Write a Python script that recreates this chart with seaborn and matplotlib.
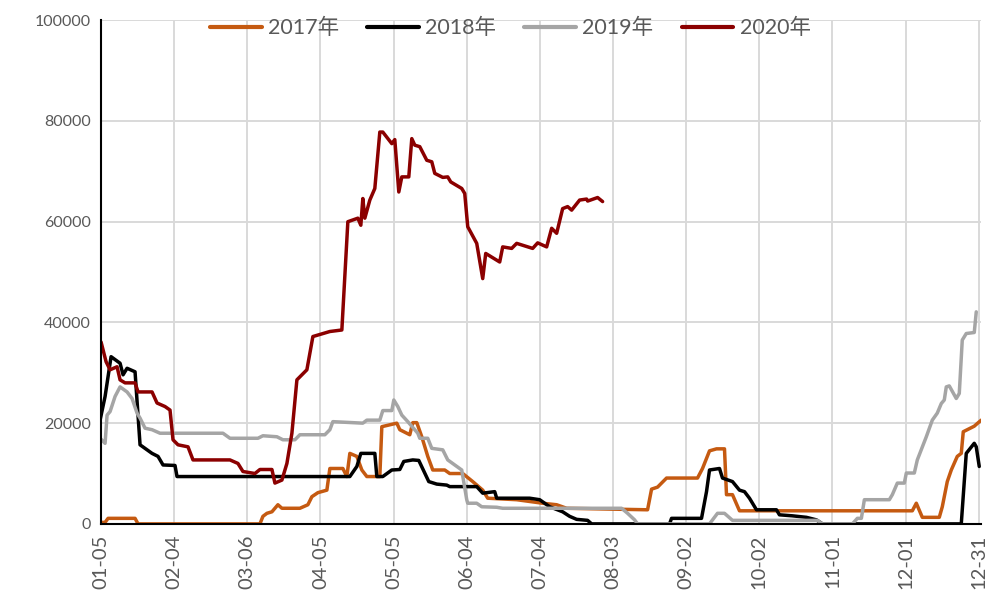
import numpy as np
import pandas as pd
import matplotlib
matplotlib.use("Agg")
import matplotlib.pyplot as plt
import seaborn as sns

# x = pixel column, converted to days since 01-05
PX_X0, PX_PER_DAY = 101.0, 2.44

tick_labels = ["01-05", "02-04", "03-06", "04-05", "05-05", "06-04", "07-04",
               "08-03", "09-02", "10-02", "11-01", "12-01", "12-31"]

x_2017 = [100, 105, 108, 135, 138, 260, 263, 267, 272, 278, 282, 300, 308, 312, 318, 327,
          330, 343, 347, 350, 357, 362, 367, 380, 382, 397, 400, 410, 413, 417, 422, 428,
          433, 445, 450, 463, 473, 483, 488, 517, 543, 557, 567, 648, 652, 658, 667, 698,
          703, 710, 717, 725, 727, 733, 740, 913, 917, 923, 940, 943, 948, 952, 958, 962,
          964, 968, 975, 979, 982]
y_2017 = [300, 300, 1100, 1100, 0, 0, 1500, 2100, 2400, 3800, 3100, 3100, 3800, 5400, 6200, 6700,
          11000, 11000, 9400, 14000, 13400, 10700, 9400, 9400, 19300, 20000, 18700, 17700, 20100, 20100, 17300, 13400,
          10700, 10700, 10000, 10000, 8400, 6700, 5100, 4800, 4100, 3800, 3100, 2800, 6900, 7300, 9100, 9100,
          11000, 14500, 14900, 14900, 5800, 5800, 2600, 2600, 4100, 1300, 1300, 3400, 8400, 10700, 13400, 14000,
          18300, 18700, 19400, 20100, 20600]

x_2018 = [100, 105, 111, 120, 123, 127, 135, 140, 152, 158, 163, 175, 177, 350, 357, 361,
          375, 377, 383, 392, 400, 404, 413, 419, 429, 437, 447, 450, 477, 483, 495, 497,
          530, 540, 550, 563, 570, 577, 588, 592, 670, 672, 702, 707, 710, 720, 723, 733,
          740, 745, 750, 757, 777, 780, 793, 807, 817, 823, 962, 967, 975, 977, 980]
y_2018 = [20600, 25300, 33200, 31900, 29600, 30900, 30200, 15700, 14000, 13400, 11700, 11600, 9400, 9400, 11400, 14000,
          14000, 9400, 9400, 10700, 10800, 12400, 12700, 12600, 8400, 7900, 7700, 7400, 7400, 6100, 6400, 5100,
          5100, 4800, 3400, 2400, 1500, 900, 700, 0, 0, 1100, 1100, 6400, 10700, 11000, 9100, 8400,
          6700, 6400, 5100, 2800, 2800, 1800, 1600, 1300, 800, 0, 0, 14000, 16000, 15300, 11400]

x_2019 = [100, 105, 107, 110, 115, 120, 127, 132, 137, 140, 145, 152, 160, 223, 230, 258,
          263, 277, 283, 295, 300, 325, 330, 333, 363, 367, 380, 383, 392, 394, 398, 402,
          408, 418, 420, 428, 432, 443, 448, 455, 462, 467, 468, 477, 482, 497, 503, 622,
          628, 635, 638, 710, 718, 725, 733, 818, 823, 853, 858, 862, 865, 890, 893, 898,
          905, 907, 915, 918, 927, 933, 938, 942, 945, 947, 950, 957, 960, 963, 967, 975,
          977]
y_2019 = [17000, 16000, 21600, 22300, 25300, 27200, 26200, 24900, 22000, 21000, 19000, 18700, 18000, 18000, 17000, 17000,
          17500, 17300, 16700, 16700, 17700, 17700, 18700, 20300, 20000, 20600, 20600, 22500, 22500, 24600, 23300, 21600,
          20300, 18000, 17000, 17000, 15000, 14700, 12700, 11700, 10700, 4800, 4100, 4100, 3400, 3300, 3100, 3100,
          2100, 800, 0, 0, 2100, 2100, 700, 700, 0, 0, 1100, 1100, 4800, 4800, 5800, 8100,
          8100, 10100, 10100, 12700, 17300, 20600, 22000, 23900, 24600, 27200, 27400, 24900, 25900, 36500, 37800, 38000,
          42100]

x_2020 = [101, 106, 110, 117, 120, 125, 135, 138, 152, 157, 165, 170, 173, 178, 188, 193,
          230, 238, 243, 255, 260, 272, 275, 282, 287, 292, 297, 307, 313, 330, 342, 348,
          358, 361, 363, 365, 370, 375, 380, 383, 392, 395, 399, 402, 409, 412, 415, 420,
          427, 432, 435, 443, 448, 451, 462, 465, 468, 477, 483, 486, 500, 503, 512, 517,
          533, 538, 547, 552, 557, 563, 568, 572, 580, 587, 588, 598, 603]
y_2020 = [36100, 32200, 30600, 31200, 28600, 28000, 28000, 26200, 26200, 24000, 23300, 22600, 16700, 15700, 15300, 12700,
          12700, 12000, 10400, 10000, 10800, 10800, 8100, 8700, 12000, 18000, 28600, 30600, 37200, 38200, 38500, 60000,
          60700, 59300, 64600, 60700, 64300, 66600, 77800, 77800, 75500, 76300, 65900, 68900, 68900, 76500, 75200, 74900,
          72200, 71900, 69600, 68800, 68900, 67900, 66600, 65600, 59000, 55700, 48700, 53700, 52000, 55000, 54700, 55700,
          54700, 55800, 55000, 58700, 57700, 62600, 63000, 62300, 64300, 64500, 64100, 64800, 64000]

years = ["2017年", "2018年", "2019年", "2020年"]
colors = ["#C55A11", "#000000", "#A5A5A5", "#8B0000"]

frames = []
for yr, xs, ys in zip(years, [x_2017, x_2018, x_2019, x_2020], [y_2017, y_2018, y_2019, y_2020]):
    day = (np.array(xs, dtype=float) - PX_X0) / PX_PER_DAY
    frames.append(pd.DataFrame({"day": day, "value": ys, "year": yr}))
df = pd.concat(frames, ignore_index=True)

sns.set_style("white")
plt.rcParams["font.family"] = ["Lato", "Noto Sans CJK SC", "DejaVu Sans"]

fig = plt.figure(figsize=(9.91, 5.96), dpi=100)
ax = fig.add_axes([0.102, 0.121, 0.888, 0.845])

sns.lineplot(data=df, x="day", y="value", hue="year", palette=colors,
             sort=False, estimator=None, linewidth=2.5, ax=ax)

ax.set_xlim(0, 361)
ax.set_ylim(0, 100000)
ax.set_xticks(np.arange(0, 361, 30))
ax.set_xticklabels(tick_labels, rotation=90)
ax.set_yticks(np.arange(0, 100001, 20000))
ax.grid(True, color="#D9D9D9", linewidth=1.4)
ax.set_axisbelow(True)
ax.set_xlabel("")
ax.set_ylabel("")

for s in ["top", "right"]:
    ax.spines[s].set_visible(False)
for s in ["left", "bottom"]:
    ax.spines[s].set_color("black")
    ax.spines[s].set_linewidth(1.5)
ax.tick_params(axis="both", colors="#595959", direction="out",
               length=4, width=1.2, color="black")
ax.tick_params(axis="x", labelsize=14.5)
ax.tick_params(axis="y", labelsize=11.5)

leg = ax.legend(loc="center", bbox_to_anchor=(0.465, 0.984), ncol=4,
                frameon=False, fontsize=15.5, handlelength=2.4, columnspacing=1.3,
                handletextpad=0.3)
for t in leg.get_texts():
    t.set_color("#595959")
for h in leg.get_lines():
    h.set_linewidth(3)

fig.savefig("out.png", dpi=100)
